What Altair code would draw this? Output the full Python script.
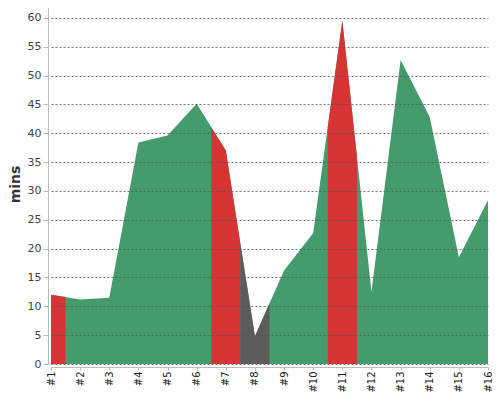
import altair as alt
import pandas as pd

labels = [f"#{i}" for i in range(1, 17)]
idx = list(range(1, 17))
values = [12.0, 11.2, 11.5, 38.4, 39.6, 45.1, 37.0, 4.8, 16.2, 22.7, 59.5, 12.5, 52.7, 42.8, 18.5, 28.4]
status = ["bad", "ok", "ok", "ok", "ok", "ok", "bad", "none", "ok", "ok", "bad", "ok", "ok", "ok", "ok", "ok"]

df = pd.DataFrame({"idx": idx, "val": values, "status": status, "label": labels})

GREEN = "#449c6c"
RED = "#d73436"
GRAY = "#5c5c5c"

FONT = "DejaVu Sans"

xaxis = alt.Axis(
    values=idx,
    labelExpr="'#' + datum.value",
    labelAngle=270,
    labelFontSize=10,
    labelColor="#222",
    labelFont=FONT,
    domainColor="#bbbbbb",
    tickColor="#bbbbbb",
    tickSize=3,
    offset=3,
    grid=False,
    title=None,
    labelPadding=1,
)

yaxis = alt.Axis(
    values=list(range(0, 61, 5)),
    labelFontSize=11,
    labelColor="#444",
    labelFont=FONT,
    domainColor="#bbbbbb",
    tickColor="#bbbbbb",
    tickSize=5,
    offset=3,
    grid=True,
    gridColor="#555555",
    gridDash=[2, 2],
    gridOpacity=0.8,
    title="mins",
    titleFontSize=14,
    titleFont=FONT,
    titleFontWeight="bold",
    titleColor="#333",
    titlePadding=5,
    labelPadding=2,
    zindex=1,
)

xs = alt.Scale(domain=[1, 16], nice=False, zero=False)
ys = alt.Scale(domain=[0, 62.4], nice=False)

base = alt.Chart(df).mark_area(color=GREEN, interpolate="linear").encode(
    x=alt.X("idx:Q", scale=xs, axis=xaxis),
    y=alt.Y("val:Q", scale=ys, axis=yaxis, stack=None),
)

overlay = (
    alt.Chart(df)
    .transform_window(
        prev="lag(val)", next="lead(val)", sort=[alt.SortField("idx")]
    )
    .transform_filter("datum.status != 'ok'")
    .transform_calculate(
        xs="[datum.prev == null ? datum.idx : datum.idx - 0.5, datum.idx, datum.next == null ? datum.idx : datum.idx + 0.5]",
        ys="[datum.prev == null ? datum.val : (datum.prev + datum.val) / 2, datum.val, datum.next == null ? datum.val : (datum.val + datum.next) / 2]",
    )
    .transform_flatten(["xs", "ys"])
    .mark_area(interpolate="linear")
    .encode(
        x=alt.X("xs:Q", scale=xs, axis=xaxis),
        y=alt.Y("ys:Q", scale=ys, axis=yaxis, stack=None),
        detail="idx:N",
        color=alt.Color(
            "status:N",
            scale=alt.Scale(domain=["ok", "bad", "none"], range=[GREEN, RED, GRAY]),
            legend=None,
        ),
    )
)

chart = (
    alt.layer(base, overlay)
    .properties(
        width=437,
        height=360,
        autosize=alt.AutoSizeParams(type="none"),
        padding={"left": 43, "top": -4, "right": 4, "bottom": 28},
    )
    .configure_view(stroke=None)
)

chart.save("out.html", embed_options={"renderer": "svg", "actions": False})
